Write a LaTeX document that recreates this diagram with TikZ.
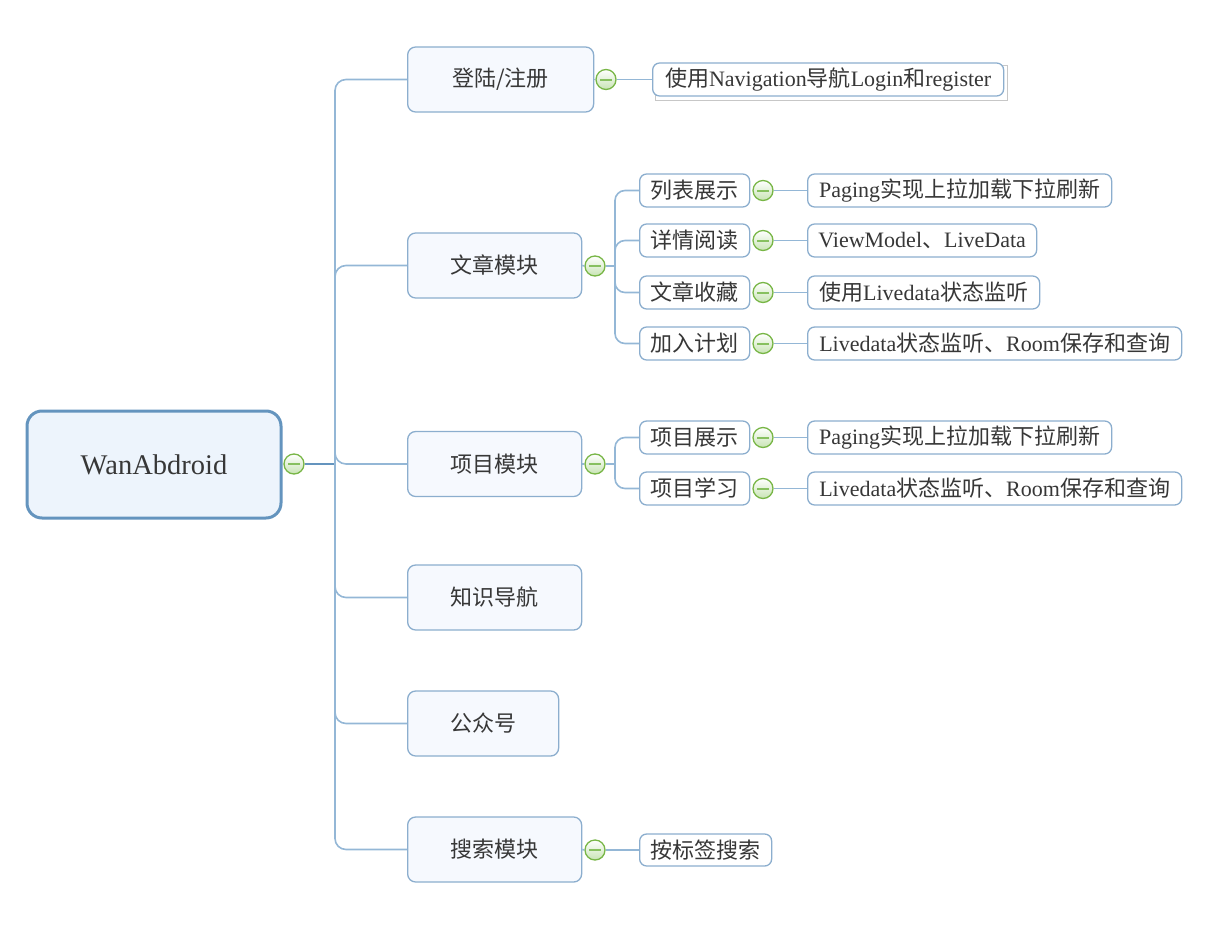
\documentclass[tikz,border=0pt]{standalone}
\usepackage{fontspec}
\setmainfont{Liberation Serif}
\newfontfamily\cjkfont{Noto Sans CJK SC}
\newcommand{\zh}[1]{{\cjkfont #1}}
\usetikzlibrary{backgrounds}
\definecolor{rootline}{RGB}{100,148,190}
\definecolor{rootfill}{RGB}{237,244,252}
\definecolor{boxline}{RGB}{140,174,206}
\definecolor{lonefill}{RGB}{246,249,254}
\definecolor{connc}{RGB}{148,183,214}
\definecolor{txt}{RGB}{55,55,55}
\definecolor{mgreen}{RGB}{120,182,70}
\definecolor{mgreenf}{RGB}{200,228,180}
\definecolor{mminus}{RGB}{135,192,95}
\tikzset{
  rootbox/.style={draw=rootline, line width=3pt, fill=rootfill, rounded corners=15pt,
    minimum width=254pt, minimum height=107pt, inner sep=0pt, text=txt, font=\fontsize{28.5}{30}\selectfont},
  lonebox/.style={draw=boxline, line width=1.3pt, fill=lonefill, rounded corners=8pt,
    minimum height=65pt, inner sep=0pt, anchor=west, text=txt, font=\fontsize{22}{24}\selectfont},
  subbox/.style={draw=boxline, line width=1.3pt, fill=white, rounded corners=7pt,
    minimum height=33pt, inner sep=0pt, anchor=west, text=txt, font=\fontsize{22}{24}\selectfont},
  minusbtn/.style={circle, draw=mgreen, line width=1.3pt, top color=white, bottom color=mgreenf,
    minimum size=20pt, inner sep=0pt,
    path picture={\draw[mminus, line width=2pt] ([xshift=-6pt]path picture bounding box.center) -- ([xshift=6pt]path picture bounding box.center);}},
  conn/.style={draw=connc, line width=1.6pt},
  rootconn/.style={draw=rootline, line width=2.4pt},
}
\begin{document}
\begin{tikzpicture}[x=1pt,y=-1pt]
\useasboundingbox (0,0) rectangle (1228,934);
% root
\node[rootbox] (root) at (154,464.5) {WanAbdroid};
\node[minusbtn] (rc) at (294,464) {};
\coordinate (trunk) at (335,464);
% level 1
\node[lonebox, minimum width=186pt] (login) at (407,79.5) {\zh{登陆/注册}};
\node[lonebox, minimum width=174pt] (article) at (407,265.5) {\zh{文章模块}};
\node[lonebox, minimum width=174pt] (project) at (407,464) {\zh{项目模块}};
\node[lonebox, minimum width=174pt] (knowledge) at (407,597.5) {\zh{知识导航}};
\node[lonebox, minimum width=151pt] (wechat) at (407,723.5) {\zh{公众号}};
\node[lonebox, minimum width=174pt] (search) at (407,849.5) {\zh{搜索模块}};
% connectors root
\draw[rootconn] (rc.east) -- (trunk);
\foreach \n in {login,article,project,knowledge,wechat,search}
  \draw[conn, rounded corners=11pt] (trunk) |- (\n.west);
% login child
\node[minusbtn] (lc) at (606,79.5) {};
\node[subbox, minimum width=351pt] (nav) at (652,79.5) {\zh{使用}Navigation\zh{导航}Login\zh{和}register};
\begin{scope}[on background layer]
\draw[draw=black!22, line width=1pt, fill=white] ([shift={(3,3)}]nav.north west) rectangle ([shift={(3,4)}]nav.south east);
\end{scope}
\draw[conn] (login.east) -- (lc.west);
\draw[conn] (lc.east) -- (nav.west);
% article children
\node[minusbtn] (ac) at (595,266) {};
\coordinate (at) at (615,266);
\draw[conn] (article.east) -- (ac.west);
\draw[conn] (ac.east) -- (at);
\node[subbox, minimum width=110pt] (a1) at (639,190.5) {\zh{列表展示}};
\node[subbox, minimum width=110pt] (a2) at (639,240.5) {\zh{详情阅读}};
\node[subbox, minimum width=110pt] (a3) at (639,292.5) {\zh{文章收藏}};
\node[subbox, minimum width=110pt] (a4) at (639,343.5) {\zh{加入计划}};
\foreach \n in {a1,a2,a3,a4}
  \draw[conn, rounded corners=10pt] (at) |- (\n.west);
\node[subbox, minimum width=304pt] (a1-l) at (807,190.5) {Paging\zh{实现上拉加载下拉刷新}};
\node[subbox, minimum width=229pt] (a2-l) at (807,240.5) {ViewModel\zh{、}LiveData};
\node[subbox, minimum width=232pt] (a3-l) at (807,292.5) {\zh{使用}Livedata\zh{状态监听}};
\node[subbox, minimum width=374pt] (a4-l) at (807,343.5) {Livedata\zh{状态监听、}Room\zh{保存和查询}};
\foreach \n in {a1,a2,a3,a4} {
  \node[minusbtn] (\n-c) at (763,0 |- \n.west) {};
  \draw[conn] (\n-c.east) -- (\n-l.west);
}
% project children
\node[minusbtn] (pc) at (595,464) {};
\coordinate (pt) at (615,464);
\draw[conn] (project.east) -- (pc.west);
\draw[conn] (pc.east) -- (pt);
\node[subbox, minimum width=110pt] (p1) at (639,437.5) {\zh{项目展示}};
\node[subbox, minimum width=110pt] (p2) at (639,488.5) {\zh{项目学习}};
\foreach \n in {p1,p2}
  \draw[conn, rounded corners=10pt] (pt) |- (\n.west);
\node[subbox, minimum width=304pt] (p1-l) at (807,437.5) {Paging\zh{实现上拉加载下拉刷新}};
\node[subbox, minimum width=374pt] (p2-l) at (807,488.5) {Livedata\zh{状态监听、}Room\zh{保存和查询}};
\foreach \n in {p1,p2} {
  \node[minusbtn] (\n-c) at (763,0 |- \n.west) {};
  \draw[conn] (\n-c.east) -- (\n-l.west);
}
% search child
\node[minusbtn] (sc) at (595,850) {};
\node[subbox, minimum width=132pt, minimum height=32pt] (s1) at (639,850) {\zh{按标签搜索}};
\draw[conn] (search.east) -- (sc.west);
\draw[conn] (sc.east) -- (s1.west);
\end{tikzpicture}
\end{document}
